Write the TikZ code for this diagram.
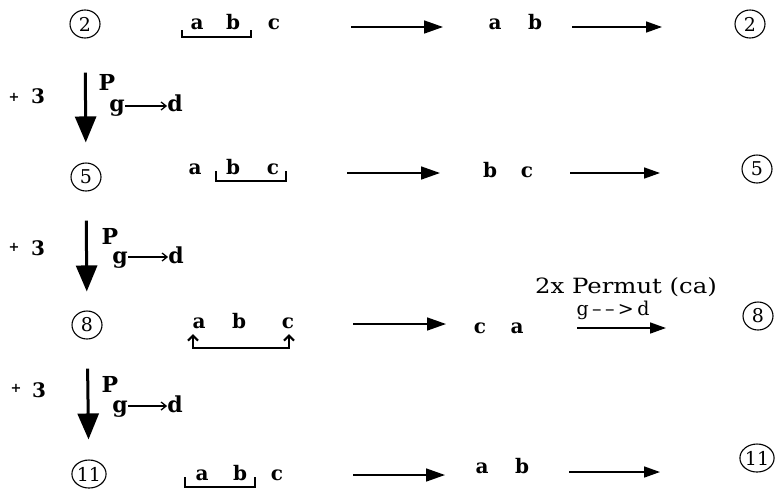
\documentclass[tikz,border=0pt]{standalone}
\usepackage{fontspec}
\setmainfont{DejaVu Serif}
\usetikzlibrary{arrows.meta,shapes.geometric}
\begin{document}
\begin{tikzpicture}[x=1pt,y=-1pt,
  lt/.style={font=\fontsize{20}{24}\selectfont\bfseries, inner sep=0pt, anchor=base},
  pt/.style={font=\fontsize{22}{26}\selectfont\bfseries, inner sep=0pt, anchor=base},
  num/.style={ellipse, draw, line width=1.1pt, minimum width=30pt, minimum height=28pt, inner sep=0pt, font=\fontsize{19}{22}\selectfont},
  harr/.style={line width=1.6pt, -{Triangle[length=19pt,width=13pt]}},
  harrb/.style={line width=1.6pt, -{Triangle[length=16pt,width=11pt]}},
  varr/.style={line width=3pt, -{Triangle[length=26pt,width=21pt]}},
  brk/.style={line width=2.2pt},
  sarr/.style={line width=1.3pt, -{Straight Barb[length=5pt,width=8pt]}},
  plus/.style={font=\fontsize{13}{14}\selectfont\bfseries, inner sep=0pt},
]
\useasboundingbox (0,0) rectangle (775,491);

% ---------- row 1 ----------
\node[num] (c2l) at (85,24) {2};
\node[lt] (a1) at (197,29) {a};
\node[lt] (b1) at (233,29) {b};
\node[lt] (cc1) at (274,29) {c};
\draw[brk] (182,30) |- (251,37) -- (251,30);
\coordinate (h1a) at (351,27); \coordinate (h1b) at (443,27);
\draw[harr] (h1a) -- (h1b);
\node[lt] (a1r) at (495,29) {a};
\node[lt] (b1r) at (535,29) {b};
\coordinate (h1c) at (572,27); \coordinate (h1d) at (662,27);
\draw[harrb] (h1c) -- (h1d);
\node[num] (c2r) at (750,24) {2};

% step 1
\node[plus] (p1) at (14,97) {+};
\node[lt] (t1) at (38,103) {3};
\node[pt] (P1) at (107,90) {P};
\node[pt] (g1) at (117,111) {g};
\node[pt] (d1) at (175,111) {d};
\draw[sarr] (g1.east |- 0,106) -- (d1.west |- 0,106);

% ---------- row 2 ----------
\node[num] (c5l) at (86,177) {5};
\node[lt] (a2) at (195,174) {a};
\node[lt] (b2) at (233,174) {b};
\node[lt] (cc2) at (273,174) {c};
\draw[brk] (216,171) |- (286,181) -- (286,171);
\coordinate (h2a) at (347,173); \coordinate (h2b) at (440,173);
\draw[harr] (h2a) -- (h2b);
\node[lt] (b2r) at (490,177) {b};
\node[lt] (cc2r) at (527,177) {c};
\coordinate (h2c) at (570,173); \coordinate (h2d) at (660,173);
\draw[harrb] (h2c) -- (h2d);
\node[num] (c5r) at (757,169) {5};

\draw[varr, shorten <=34pt, shorten >=20pt] (c2l) -- (c5l);

% step 2
\node[plus] (p2) at (14,247) {+};
\node[lt] (t2) at (38,255) {3};
\node[pt] (P2) at (110,244) {P};
\node[pt] (g2) at (120,263) {g};
\node[pt] (d2) at (176,263) {d};
\draw[sarr] (g2.east |- 0,257) -- (d2.west |- 0,257);

% ---------- row 3 ----------
\node[num] (c8l) at (87,325) {8};
\node[lt] (a3) at (199,328) {a};
\node[lt] (b3) at (239,328) {b};
\node[lt] (cc3) at (288,328) {c};
\draw[brk, {Straight Barb[length=5pt,width=10pt]}-{Straight Barb[length=5pt,width=10pt]}] (193,334) |- (289,348) -- (289,334);
\coordinate (h3a) at (353,324); \coordinate (h3b) at (446,324);
\draw[harr] (h3a) -- (h3b);
\node[lt] (cc3r) at (480,333) {c};
\node[lt] (a3r) at (517,333) {a};
\node[inner sep=0pt, anchor=base, font=\fontsize{21}{24}\selectfont] (perm) at (626,293) {\scalebox{1.16}[1]{2x Permut (ca)}};
\node[inner sep=0pt, anchor=base, font=\fontsize{19}{22}\selectfont] (gd) at (613,315) {\makebox[73pt][s]{g\hfil--\hfil--\hfil>\hfil d}};
\coordinate (h3c) at (577,328); \coordinate (h3d) at (666,328);
\draw[harrb] (h3c) -- (h3d);
\node[num] (c8r) at (758,316) {8};

\draw[varr, shorten <=29pt, shorten >=19pt] (c5l) -- (c8l);

% step 3
\node[plus] (p3) at (16,388) {+};
\node[lt] (t3) at (39,397) {3};
\node[pt] (P3) at (110,392) {P};
\node[pt] (g3) at (120,412) {g};
\node[pt] (d3) at (175,412) {d};
\draw[sarr] (g3.east |- 0,406) -- (d3.west |- 0,406);

% ---------- row 4 ----------
\node[num] (c11l) at (89,474) {11};
\node[lt] (a4) at (202,480) {a};
\node[lt] (b4) at (240,480) {b};
\node[lt] (cc4) at (277,480) {c};
\draw[brk] (185,477) |- (255,487) -- (255,477);
\coordinate (h4a) at (353,475); \coordinate (h4b) at (445,475);
\draw[harr] (h4a) -- (h4b);
\node[lt] (a4r) at (482,473) {a};
\node[lt] (b4r) at (522,473) {b};
\coordinate (h4c) at (569,472); \coordinate (h4d) at (660,472);
\draw[harrb] (h4c) -- (h4d);
\node[num] (c11r) at (757,458) {11};

\draw[varr, shorten <=29pt, shorten >=20pt] (c8l) -- (c11l);
\end{tikzpicture}
\end{document}
